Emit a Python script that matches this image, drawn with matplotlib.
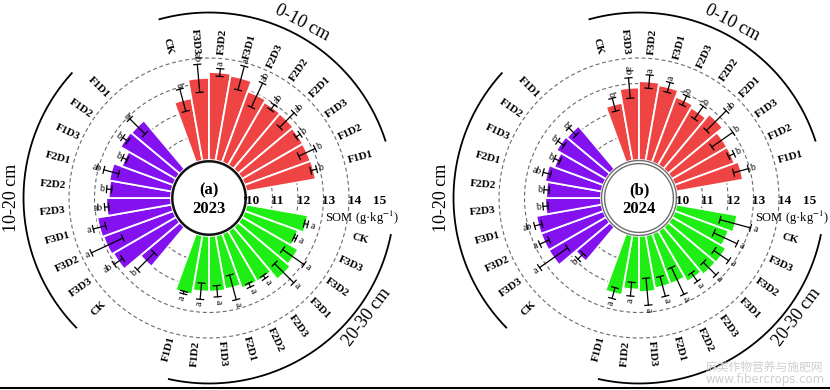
import numpy as np
import matplotlib
matplotlib.use('Agg')
import matplotlib.pyplot as plt
import matplotlib.transforms as mtransforms

plt.rcParams['font.family'] = ['Liberation Serif', 'DejaVu Serif']
plt.rcParams['mathtext.fontset'] = 'stix'

# ---------------- data ----------------
treatments = ['CK', 'F3D3', 'F3D2', 'F3D1', 'F2D3', 'F2D2', 'F2D1', 'F1D3', 'F1D2', 'F1D1']
depths = ['0-10 cm', '10-20 cm', '20-30 cm']
years = ['2023', '2024']
tags = ['(a)', '(b)']
tick_values = [10, 11, 12, 13, 14, 15]

# 2023
som_2023_d1 = [12.48, 13.22, 13.45, 13.38, 12.96, 12.85, 12.83, 12.77, 12.75, 12.76]
err_2023_d1 = [0.45, 0.55, 0.15, 0.48, 0.52, 0.12, 0.40, 0.10, 0.35, 0.12]
sig_2023_d1 = ['b', 'ab', 'a', 'a', 'ab', 'ab', 'ab', 'b', 'b', 'b']
som_2023_d2 = [12.02, 12.85, 12.92, 12.96, 12.54, 12.44, 12.48, 12.15, 12.52, 12.48]
err_2023_d2 = [0.47, 0.20, 0.68, 0.25, 0.08, 0.10, 0.30, 0.10, 0.12, 0.42]
sig_2023_d2 = ['b', 'ab', 'a', 'a', 'ab', 'b', 'ab', 'b', 'b', 'b']
som_2023_d3 = [12.45, 12.23, 12.55, 12.68, 12.29, 12.28, 12.14, 12.18, 12.18, 12.35]
err_2023_d3 = [0.07, 0.05, 0.51, 0.53, 0.07, 0.08, 0.50, 0.22, 0.32, 0.05]
sig_2023_d3 = ['a', 'a', 'a', 'a', 'a', 'a', 'a', 'a', 'a', 'a']

# 2024
som_2024_d1 = [12.30, 12.84, 13.09, 13.00, 12.73, 12.60, 12.80, 12.50, 12.50, 12.65]
err_2024_d1 = [0.26, 0.40, 0.26, 0.20, 0.20, 0.30, 0.55, 0.50, 0.12, 0.30]
sig_2024_d1 = ['b', 'ab', 'a', 'a', 'b', 'b', 'ab', 'b', 'b', 'b']
som_2024_d2 = [11.75, 12.60, 12.60, 12.60, 12.19, 12.15, 12.25, 12.05, 12.25, 12.20]
err_2024_d2 = [0.15, 0.67, 0.20, 0.15, 0.10, 0.10, 0.15, 0.12, 0.15, 0.20]
sig_2024_d2 = ['b', 'a', 'a', 'ab', 'b', 'b', 'ab', 'b', 'b', 'b']
som_2024_d3 = [12.42, 12.25, 12.45, 12.43, 12.30, 12.10, 12.10, 12.20, 12.10, 12.37]
err_2024_d3 = [0.62, 0.50, 0.35, 0.35, 0.20, 0.58, 0.40, 0.53, 0.27, 0.22]
sig_2024_d3 = ['a', 'a', 'a', 'a', 'a', 'a', 'a', 'a', 'a', 'a']

panels = [
    [(som_2023_d1, err_2023_d1, sig_2023_d1),
     (som_2023_d2, err_2023_d2, sig_2023_d2),
     (som_2023_d3, err_2023_d3, sig_2023_d3)],
    [(som_2024_d1, err_2024_d1, sig_2024_d1),
     (som_2024_d2, err_2024_d2, sig_2024_d2),
     (som_2024_d3, err_2024_d3, sig_2024_d3)],
]

# ---------------- layout / style ----------------
colors = ['#EF4444', '#8412F0', '#1FEE14']
start_angle = [105, -135, -15]           # angle (deg) of CK bar of each depth group
step = -10
arc_spans = [(18, 105.5), (137.7, 224.3), (-102.5, -11.5)]
group_label_angle = [62, 180, -37]

W, H = 830, 390
DPI = 100
PXU = 25.5          # pixels per g/kg
RORIG = 8.51        # radial origin (value at centre)
RMAX = 16.0
centers = [(209, 198), (639, 198)]

fig = plt.figure(figsize=(W / DPI, H / DPI), dpi=DPI)


def rpx(v):
    return PXU * (v - RORIG)


def radial_rot(deg):
    d = ((deg + 180) % 360) - 180
    if d > 90:
        return d - 180
    if d < -90:
        return d + 180
    return d


def tangential_rot(deg):
    d = ((deg - 90 + 180) % 360) - 180
    if d > 90:
        return d - 180
    if d <= -90:
        return d + 180
    return d


for p, (cx, cy) in enumerate(centers):
    R = rpx(RMAX)
    ax = fig.add_axes([(cx - R) / W, (H - cy - R) / H, 2 * R / W, 2 * R / H],
                      projection='polar')
    ax.set_rorigin(RORIG)
    ax.set_ylim(10, RMAX)
    ax.axis('off')

    full = np.linspace(0, 2 * np.pi, 400)
    # dashed grid circles
    for g in [11, 12, 13, 14]:
        ax.plot(full, np.full_like(full, g), ls=(0, (3.5, 2.5)), color='#6a6a6a',
                lw=0.8, zorder=1, clip_on=False)

    for gi, (vals, errs, sigs) in enumerate(panels[p]):
        angs = [start_angle[gi] + step * k for k in range(len(treatments))]
        th = np.radians(angs)
        vals = np.asarray(vals)
        ax.bar(th, vals - 10, width=np.radians(10), bottom=10, color=colors[gi],
               edgecolor='white', linewidth=1.3, zorder=2, clip_on=False)
        for a, t, v, e, s, name in zip(angs, th, vals, errs, sigs, treatments):
            lo, hi = v - e, v + e
            ax.plot([t, t], [lo, hi], color='black', lw=0.9, zorder=3, clip_on=False)
            for rr in (lo, hi):
                dt = 3.5 / rpx(rr)
                ax.plot([t - dt, t + dt], [rr, rr], color='black', lw=0.9,
                        zorder=3, clip_on=False)
            wpx = 4.5 * len(s)
            rl = hi + (2.5 + wpx / 2) / PXU
            ax.text(t, rl, s, fontsize=7, ha='center', va='center',
                    rotation=radial_rot(a), rotation_mode='anchor', zorder=4)
            ax.text(t, 14.65, name, fontsize=8, fontweight='bold', ha='center',
                    va='center', rotation=radial_rot(a), rotation_mode='anchor')
        # group arc
        a0, a1 = arc_spans[gi]
        arc = np.radians(np.linspace(a0, a1, 200))
        ax.plot(arc, np.full_like(arc, 8.51 + 185.5 / PXU), color='black', lw=1.3,
                clip_on=False)
        ga = group_label_angle[gi]
        ax.text(np.radians(ga), 8.51 + 198 / PXU, depths[gi], fontsize=13,
                ha='center', va='center', rotation=tangential_rot(ga),
                rotation_mode='anchor')

    # inner circle
    if p == 0:
        ax.fill(full, np.full_like(full, 9.95), color='white', zorder=5, clip_on=False)
        ax.plot(full, np.full_like(full, 9.95), color='#111111', lw=1.8, zorder=6,
                clip_on=False)
    else:
        ax.fill(full, np.full_like(full, 9.97), color='white', zorder=5, clip_on=False)
        ax.plot(full, np.full_like(full, 9.98), color='#6e6e6e', lw=1.0, zorder=6,
                clip_on=False)
        ax.plot(full, np.full_like(full, 9.86), color='#6e6e6e', lw=1.0, zorder=6,
                clip_on=False)

    # radial tick labels
    tdown = mtransforms.offset_copy(ax.transData, fig=fig, x=0, y=-2.5, units='dots')
    for tv in tick_values:
        ax.text(0, tv - 0.04, str(tv), transform=tdown, fontsize=9.5,
                fontweight='bold', ha='left', va='center', zorder=7)
    tsom = mtransforms.offset_copy(ax.transData, fig=fig, x=0, y=-20, units='dots')
    ax.text(0, 13.05, 'SOM (g·kg$^{-1}$)', transform=tsom, fontsize=9,
            ha='left', va='center')

    # centre text
    tup = mtransforms.offset_copy(ax.transAxes, fig=fig, x=0, y=8, units='dots')
    tdn = mtransforms.offset_copy(ax.transAxes, fig=fig, x=0, y=-11, units='dots')
    ax.text(0.5, 0.5, tags[p], transform=tup, fontsize=12, fontweight='bold',
            ha='center', va='center', zorder=8)
    ax.text(0.5, 0.5, years[p], transform=tdn, fontsize=12, fontweight='bold',
            ha='center', va='center', zorder=8)

# bottom border line
fig.add_artist(plt.Line2D([0, 1], [2 / H, 2 / H], transform=fig.transFigure,
                          color='black', lw=1.5))
# watermark text
fig.text(765 / W, 1 - 367 / H, '麻类作物营养与施肥网', fontsize=8.5, color='#cfcfcf',
         ha='center', va='center', family=['Noto Sans CJK SC', 'DejaVu Sans'])
fig.text(765 / W, 1 - 380 / H, 'www.fibercrops.com', fontsize=8.5, color='#cfcfcf',
         ha='center', va='center', family=['DejaVu Sans'])

fig.savefig('out.png', dpi=DPI)
